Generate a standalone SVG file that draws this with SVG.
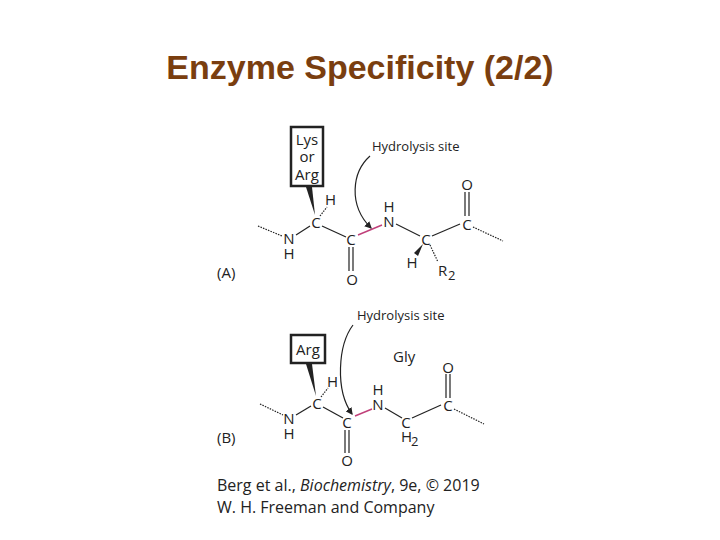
<svg xmlns="http://www.w3.org/2000/svg" width="720" height="540" viewBox="0 0 720 540">
<defs>
<style>
.t{font-family:"Open Sans","DejaVu Sans",sans-serif;fill:#222;font-size:15px}
.s{font-family:"Open Sans","DejaVu Sans",sans-serif;fill:#222;font-size:13px}
.b{stroke:#222;stroke-width:1.2;fill:none}
.d{stroke:#222;stroke-width:1.2;fill:none;stroke-dasharray:1.5 1.2}
.p{stroke:#c0407a;stroke-width:1.4;fill:none}
.box{fill:#fff;stroke:#222;stroke-width:2.5}
</style>
<marker id="ah" markerWidth="6" markerHeight="6" refX="5" refY="3" orient="auto"><path d="M0,0 L6,3 L0,6 z" fill="#222"/></marker>
</defs>
<rect width="720" height="540" fill="#fff"/>
<text x="360" y="79" text-anchor="middle" font-family="Liberation Sans, Arial, sans-serif" font-weight="bold" font-size="34" fill="#7a3e0f">Enzyme Specificity (2/2)</text>

<g id="panelA">
<rect class="box" x="291" y="127" width="32" height="59"/>
<text class="t" x="307" y="145" text-anchor="middle">Lys</text>
<text class="t" x="307" y="162" text-anchor="middle">or</text>
<text class="t" x="307" y="180" text-anchor="middle">Arg</text>
<path d="M306,187 L312,187 L315,215 Z" fill="#222"/>
<text class="t" x="325" y="205">H</text>
<path class="d" d="M320,216 L327,207"/>
<text class="t" x="316" y="228" text-anchor="middle">C</text>
<path class="d" d="M258,226 L282,236"/>
<text class="t" x="289" y="244" text-anchor="middle">N</text>
<text class="t" x="289" y="259" text-anchor="middle">H</text>
<path class="b" d="M296,235 L310,226"/>
<path class="b" d="M322,226 L346,237"/>
<text class="t" x="351" y="245" text-anchor="middle">C</text>
<path class="b" d="M349,247 L349,271 M353,247 L353,271"/>
<text class="t" x="352" y="285" text-anchor="middle">O</text>
<path class="p" d="M358,235 L382,225"/>
<text class="t" x="389" y="227" text-anchor="middle">N</text>
<text class="t" x="389" y="212" text-anchor="middle">H</text>
<path class="b" d="M396,224 L420,236"/>
<text class="t" x="426" y="245" text-anchor="middle">C</text>
<path d="M423,244 L418,256 L414,253 Z" fill="#222"/>
<text class="t" x="412" y="268" text-anchor="middle">H</text>
<path class="d" d="M430,245 L438,262"/>
<text class="t" x="438" y="276">R</text>
<text class="s" x="448" y="280">2</text>
<path class="b" d="M432,236 L460,224"/>
<text class="t" x="467" y="230" text-anchor="middle">C</text>
<path class="b" d="M465,192 L465,216 M469,192 L469,216"/>
<text class="t" x="467" y="190" text-anchor="middle">O</text>
<path class="d" d="M473,227 L503,241"/>
<text class="s" x="372" y="151">Hydrolysis site</text>
<path class="b" d="M370,156 C352,172 348,205 371,228" marker-end="url(#ah)"/>
<text class="t" x="217" y="278">(A)</text>
</g>

<g id="panelB">
<rect class="box" x="291" y="335" width="34" height="28"/>
<text class="t" x="308" y="355" text-anchor="middle">Arg</text>
<path d="M306,364 L312,364 L316,396 Z" fill="#222"/>
<text class="t" x="327" y="387">H</text>
<path class="d" d="M321,397 L328,388"/>
<text class="t" x="317" y="409" text-anchor="middle">C</text>
<path class="d" d="M260,404 L283,415"/>
<text class="t" x="289" y="424" text-anchor="middle">N</text>
<text class="t" x="289" y="439" text-anchor="middle">H</text>
<path class="b" d="M296,415 L311,406"/>
<path class="b" d="M323,407 L343,418"/>
<text class="t" x="347" y="428" text-anchor="middle">C</text>
<path class="b" d="M345,430 L345,453 M349,430 L349,453"/>
<text class="t" x="347" y="466" text-anchor="middle">O</text>
<path class="p" d="M355,416 L372,409"/>
<text class="t" x="378" y="410" text-anchor="middle">N</text>
<text class="t" x="378" y="395" text-anchor="middle">H</text>
<path class="b" d="M385,408 L402,418"/>
<text class="t" x="406" y="428" text-anchor="middle">C</text>
<text class="t" x="401" y="442">H</text>
<text class="s" x="411" y="446">2</text>
<path class="b" d="M412,418 L441,405"/>
<text class="t" x="448" y="411" text-anchor="middle">C</text>
<path class="b" d="M446,374 L446,398 M450,374 L450,398"/>
<text class="t" x="448" y="373" text-anchor="middle">O</text>
<path class="d" d="M454,409 L484,424"/>
<text class="t" x="393" y="362">Gly</text>
<text class="s" x="357" y="320">Hydrolysis site</text>
<path class="b" d="M353,325 C338,345 335,390 352,414" marker-end="url(#ah)"/>
<text class="t" x="217" y="443">(B)</text>
</g>

<g id="citation">
<text font-family="Open Sans, DejaVu Sans, sans-serif" font-size="16" fill="#222" x="217" y="491">Berg et al., <tspan font-style="italic">Biochemistry</tspan>, 9e, © 2019</text>
<text font-family="Open Sans, DejaVu Sans, sans-serif" font-size="16" fill="#222" x="217" y="513">W. H. Freeman and Company</text>
</g>
</svg>
